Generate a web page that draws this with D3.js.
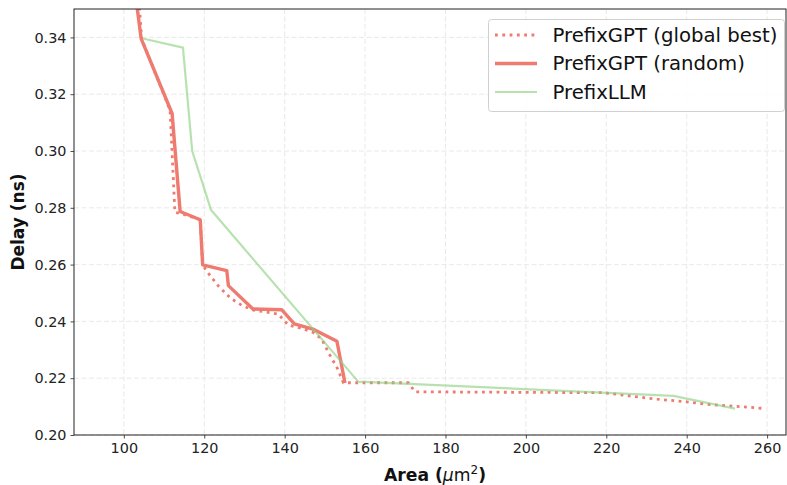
<!DOCTYPE html>
<html><head><meta charset="utf-8">
<script src="https://cdn.jsdelivr.net/npm/d3@7"></script>
<style>body{margin:0;background:#fff}svg{display:block}</style>
</head><body>
<svg id="c" width="787" height="485"></svg>
<script>
// ---- data ----
const seriesNames = ["PrefixGPT (global best)", "PrefixGPT (random)", "PrefixLLM"];
const globalBestArea  = [103.9, 104.4, 111.5, 112.7, 114.6, 119.0, 119.6, 121.0, 123.5, 126.5, 129.5, 132.2, 138.4, 140.9, 144.3, 147.1, 149.2, 150.9, 153.1, 154.6, 170.8, 172.4, 219.3, 232.6, 240.0, 245.0, 253.3, 258.7];
const globalBestDelay = [0.3505, 0.3396, 0.3143, 0.2784, 0.2778, 0.2758, 0.2599, 0.2570, 0.2525, 0.2482, 0.2455, 0.2440, 0.2426, 0.2387, 0.2375, 0.2361, 0.2338, 0.2290, 0.2235, 0.2184, 0.2184, 0.2152, 0.2149, 0.2126, 0.2117, 0.2108, 0.2100, 0.2094];
const randomArea  = [103.3, 104.3, 112.0, 114.0, 119.0, 119.6, 125.6, 126.0, 132.1, 139.3, 142.4, 147.0, 153.0, 155.0];
const randomDelay = [0.3505, 0.3396, 0.3132, 0.2787, 0.2758, 0.2599, 0.2579, 0.2526, 0.2444, 0.2441, 0.2391, 0.2373, 0.2330, 0.2183];
const llmArea  = [104.7, 114.7, 117.0, 121.7, 158.3, 236.7, 252.0];
const llmDelay = [0.3396, 0.3364, 0.3000, 0.2792, 0.2188, 0.2138, 0.2093];
const xTicks = [100, 120, 140, 160, 180, 200, 220, 240, 260];
const yTicks = [0.20, 0.22, 0.24, 0.26, 0.28, 0.30, 0.32, 0.34];

const series = [
  {name: seriesNames[0], x: globalBestArea, y: globalBestDelay, color: "#ef7a70", width: 2.8, dash: "2.8,4.5", opacity: 1},
  {name: seriesNames[1], x: randomArea, y: randomDelay, color: "#ef7a70", width: 3.4, dash: null, opacity: 1},
  {name: seriesNames[2], x: llmArea, y: llmDelay, color: "#8ccf80", width: 2.2, dash: null, opacity: 0.62}
];

const svg = d3.select("#c");
const L = 74, R = 786, T = 9, B = 435;
const x = d3.scaleLinear().domain([87.6, 264.7]).range([L, R]);
const y = d3.scaleLinear().domain([0.20, 0.35]).range([B, T]);
const font = "DejaVu Sans, sans-serif";

// grid
const grid = svg.append("g");
grid.selectAll("line.gx").data(xTicks).join("line")
  .attr("x1", d => x(d)).attr("x2", d => x(d)).attr("y1", T).attr("y2", B)
  .attr("stroke", "#e3e3e3").attr("stroke-width", 0.8).attr("stroke-dasharray", "5,2.5");
grid.selectAll("line.gy").data(yTicks).join("line")
  .attr("y1", d => y(d)).attr("y2", d => y(d)).attr("x1", L).attr("x2", R)
  .attr("stroke", "#e3e3e3").attr("stroke-width", 0.8).attr("stroke-dasharray", "5,2.5");

// clip
svg.append("clipPath").attr("id", "clip").append("rect")
  .attr("x", L).attr("y", T).attr("width", R - L).attr("height", B - T);

const line = d3.line().x(d => x(d[0])).y(d => y(d[1]));
const lines = svg.append("g").attr("clip-path", "url(#clip)");
series.forEach(s => {
  const pts = s.x.map((v, i) => [v, s.y[i]]);
  const p = lines.append("path").attr("d", line(pts)).attr("fill", "none")
    .attr("stroke", s.color).attr("stroke-width", s.width)
    .attr("stroke-opacity", s.opacity).attr("stroke-linejoin", "round");
  if (s.dash) p.attr("stroke-dasharray", s.dash).attr("stroke-linecap", "butt");
});

// axes
const xAxis = svg.append("g").attr("transform", `translate(0,${B})`)
  .call(d3.axisBottom(x).tickValues(xTicks).tickSize(3.5).tickPadding(4).tickFormat(d3.format("d")));
const yAxis = svg.append("g").attr("transform", `translate(${L},0)`)
  .call(d3.axisLeft(y).tickValues(yTicks).tickSize(3.5).tickPadding(4).tickFormat(d3.format(".2f")));
[xAxis, yAxis].forEach(a => {
  a.select(".domain").remove();
  a.selectAll("text").attr("font-family", font).attr("font-size", 14.4).attr("fill", "#222");
  a.selectAll("line").attr("stroke", "#222").attr("stroke-width", 0.8);
});
// spines
svg.append("rect").attr("x", L).attr("y", T).attr("width", R - L).attr("height", B - T)
  .attr("fill", "none").attr("stroke", "#222").attr("stroke-width", 1);

// axis labels
const xl = svg.append("text").attr("x", 435).attr("y", 481).attr("text-anchor", "middle")
  .attr("font-family", font).attr("font-size", 17.2).attr("font-weight", "bold").attr("fill", "#111");
xl.append("tspan").text("Area (");
xl.append("tspan").text("μ").attr("font-style", "italic").attr("font-weight", "normal");
xl.append("tspan").text("m").attr("font-weight", "normal");
xl.append("tspan").text("2").attr("font-weight", "normal").attr("font-size", 12).attr("dy", -7);
xl.append("tspan").text(")").attr("dy", 7);

svg.append("text").attr("transform", `translate(24,${(T + B) / 2}) rotate(-90)`)
  .attr("text-anchor", "middle").attr("font-family", font).attr("font-size", 17)
  .attr("font-weight", "bold").attr("fill", "#111").text("Delay (ns)");

// legend
const lg = svg.append("g");
lg.append("rect").attr("x", 488.5).attr("y", 19.5).attr("width", 296).attr("height", 92)
  .attr("rx", 3).attr("fill", "#fff").attr("fill-opacity", 0.85).attr("stroke", "#d0d0d0");
const rowY = [35, 63.5, 92];
series.forEach((s, i) => {
  const l = lg.append("line").attr("x1", 495).attr("x2", 537).attr("y1", rowY[i]).attr("y2", rowY[i])
    .attr("stroke", s.color).attr("stroke-width", s.width).attr("stroke-opacity", s.opacity);
  if (s.dash) l.attr("stroke-dasharray", s.dash);
  lg.append("text").attr("x", 552.5).attr("y", rowY[i]).attr("dy", "0.35em")
    .attr("font-family", font).attr("font-size", 19.7).attr("fill", "#111").text(s.name);
});
</script>
</body></html>
